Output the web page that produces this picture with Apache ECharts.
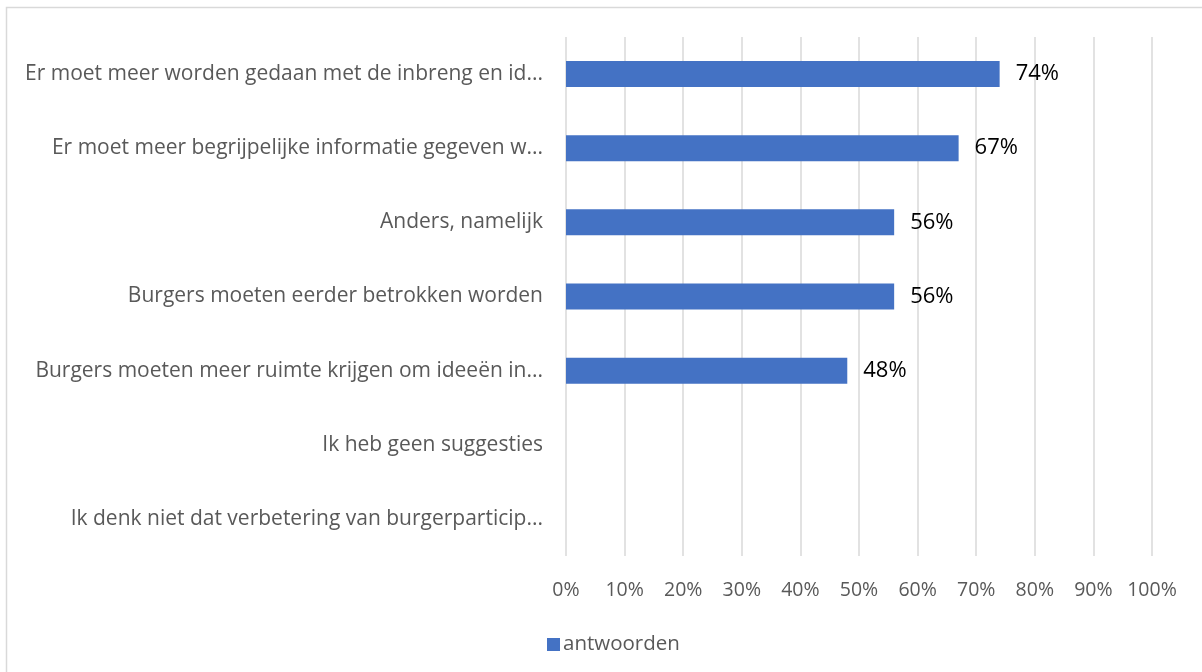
<!DOCTYPE html>
<html>
<head>
<meta charset="utf-8">
<script src="https://cdn.jsdelivr.net/npm/echarts@6/dist/echarts.min.js"></script>
<style>
  html, body { margin: 0; padding: 0; background: #fff; }
  #chart { width: 1202px; height: 672px; }
</style>
</head>
<body>
<div id="chart"></div>
<script>
// categories top to bottom
const categories = [
  'Er moet meer worden gedaan met de inbreng en id...',
  'Er moet meer begrijpelijke informatie gegeven w...',
  'Anders, namelijk',
  'Burgers moeten eerder betrokken worden',
  'Burgers moeten meer ruimte krijgen om ideeën in...',
  'Ik heb geen suggesties',
  'Ik denk niet dat verbetering van burgerparticip...'
];
const antwoorden = [74, 67, 56, 56, 48, null, null];
const seriesName = 'antwoorden';

const fontFamily = '"Open Sans", Lato, sans-serif';

let chart = echarts.init(document.getElementById('chart'));
let options = {
  animation: false,
  backgroundColor: '#fff',
  graphic: [
    {
      type: 'rect',
      shape: { x: 6.5, y: 7.5, width: 1210, height: 700 },
      style: { fill: 'none', stroke: '#d9d9d9', lineWidth: 1.5 },
      silent: true
    }
  ],
  grid: {
    left: 566,
    right: 50,
    top: 37,
    bottom: 116
  },
  legend: {
    data: [seriesName],
    left: 542,
    top: 629,
    icon: 'rect',
    itemWidth: 13,
    itemHeight: 13,
    itemGap: 5,
    textStyle: {
      color: '#595959',
      fontSize: 20.5,
      fontFamily: fontFamily,
      padding: [0, 0, 0, -2]
    }
  },
  xAxis: {
    type: 'value',
    min: 0,
    max: 100,
    interval: 10,
    axisLine: { show: false },
    axisTick: { show: false },
    splitLine: { show: true, lineStyle: { color: '#d9d9d9', width: 1.5 } },
    axisLabel: {
      formatter: '{value}%',
      color: '#595959',
      fontSize: 19.5,
      fontFamily: fontFamily,
      margin: 24
    }
  },
  yAxis: {
    type: 'category',
    inverse: true,
    data: categories,
    axisLine: { show: false },
    axisTick: { show: false },
    axisLabel: {
      color: '#595959',
      fontSize: 21,
      fontFamily: fontFamily,
      margin: 23
    }
  },
  series: [
    {
      name: seriesName,
      type: 'bar',
      data: antwoorden,
      barWidth: 26,
      itemStyle: { color: '#4472c4' },
      label: {
        show: true,
        position: 'right',
        distance: 16,
        formatter: '{c}%',
        color: '#000',
        fontSize: 22,
        fontFamily: fontFamily
      }
    }
  ]
};
chart.setOption(options);
</script>
</body>
</html>
